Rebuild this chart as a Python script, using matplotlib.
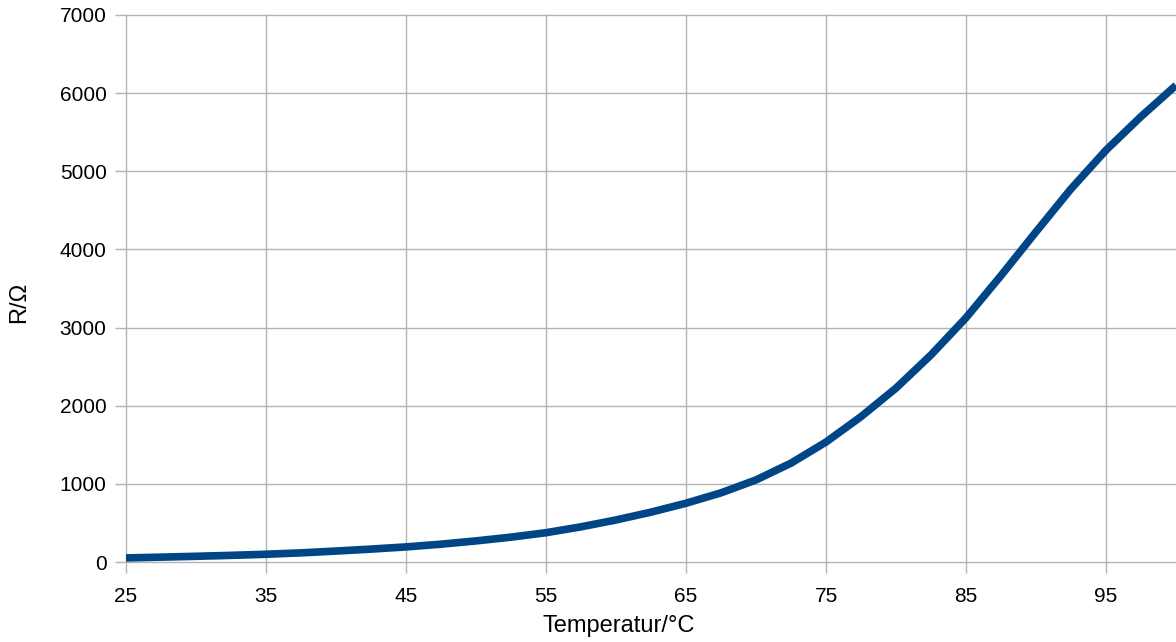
import matplotlib
matplotlib.use("Agg")
import matplotlib.pyplot as plt

# temperature in °C and resistance in Ohm
temperatur = [25, 27.5, 30, 32.5, 35, 37.5, 40, 42.5, 45, 47.5, 50, 52.5, 55,
              57.5, 60, 62.5, 65, 67.5, 70, 72.5, 75, 77.5, 80, 82.5, 85,
              87.5, 90, 92.5, 95, 97.5, 100]
widerstand = [52, 62, 73, 85, 99, 117, 140, 165, 193, 228, 270, 318, 375,
              450, 538, 638, 752, 885, 1050, 1265, 1535, 1860, 2225, 2650, 3125,
              3665, 4225, 4775, 5270, 5700, 6100]
x_ticks = [25, 35, 45, 55, 65, 75, 85, 95]
y_ticks = [0, 1000, 2000, 3000, 4000, 5000, 6000, 7000]

plt.rcParams['font.family'] = ['Liberation Sans', 'DejaVu Sans']

fig = plt.figure(figsize=(11.76, 6.42), dpi=100)
ax = fig.add_axes([126 / 1176, 80 / 642, 1 - 126 / 1176, 547 / 642])

ax.plot(temperatur, widerstand, color='#004586', linewidth=5.5,
        solid_joinstyle='round', solid_capstyle='butt', zorder=3)

ax.set_xlim(25, 100)
ax.set_ylim(0, 7000)
ax.set_xticks(x_ticks)
ax.set_yticks(y_ticks)
ax.grid(True, color='#b3b3b3', linewidth=1)
for gl in ax.get_xgridlines() + ax.get_ygridlines():
    gl.set_clip_on(False)
for s in ax.spines.values():
    s.set_visible(False)
ax.tick_params(axis='both', color='#b3b3b3', length=8, width=1,
               labelsize=15, labelcolor='black')
ax.tick_params(axis='x', pad=10)
ax.tick_params(axis='y', pad=6)

ax.set_xlabel('Temperatur/°C', fontsize=17)
ax.xaxis.set_label_coords((619 - 126) / 1050, -0.097)
ax.set_ylabel('R/Ω', fontsize=17)
ax.yaxis.set_label_coords((30 - 126) / 1050, 0.475)

fig.savefig('out.png', dpi=100)
